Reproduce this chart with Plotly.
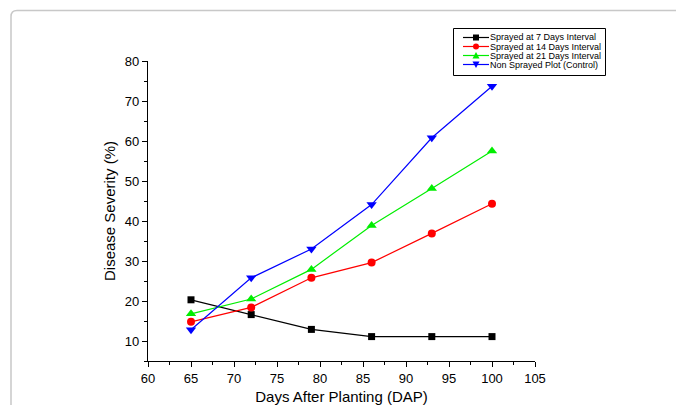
import plotly.graph_objects as go

dap = [65, 72, 79, 86, 93, 100]
sprayed_7 = [20.3, 16.6, 12.9, 11.1, 11.1, 11.1]
sprayed_14 = [14.8, 18.4, 25.8, 29.6, 36.9, 44.3]
sprayed_21 = [16.8, 20.5, 27.9, 38.9, 48.1, 57.5]
control = [12.8, 25.8, 33.0, 44.1, 60.8, 73.7]

series_names = ["Sprayed at 7 Days Interval", "Sprayed at 14 Days Interval",
                "Sprayed at 21 Days Interval", "Non Sprayed Plot (Control)"]
x_tickvals = [60, 65, 70, 75, 80, 85, 90, 95, 100, 105]
y_tickvals = [10, 20, 30, 40, 50, 60, 70, 80]

FONT = "Liberation Sans, Arial, sans-serif"

fig = go.Figure()
styles = [
    (sprayed_7, "#000000", "square", 7),
    (sprayed_14, "#ff0000", "circle", 8),
    (sprayed_21, "#00ee00", "triangle-up", 9),
    (control, "#0000ff", "triangle-down", 9),
]
for (vals, color, sym, size), name in zip(styles, series_names):
    fig.add_trace(go.Scatter(
        x=dap, y=vals, name=name, mode="lines+markers",
        line=dict(color=color, width=1.2),
        marker=dict(symbol=sym, size=size, color=color),
        showlegend=False,
    ))

# page has an 8px body margin; target plot area in window px: x 148..535, y 61..361
OFF = 8
W, H = 684, 405
L, T = 148 - OFF, 61 - OFF
pw, ph = 387, 300
R, B = W - L - pw, H - T - ph

def px(x):
    return (x - OFF - L) / pw

def py(y):
    return (T + ph - (y - OFF)) / ph

# rounded gray frame
x0, y0 = px(11), py(10.5)
rx, ry = 6 / pw, 6 / ph
path = (f"M {x0},{py(430)} L {x0},{y0 - ry} Q {x0},{y0} {x0 + rx},{y0} "
        f"L {px(710)},{y0}")
fig.add_shape(type="path", xref="paper", yref="paper", path=path,
              line=dict(color="#c8c8c8", width=1.5), layer="below")

# manual compact legend
fig.add_shape(type="rect", xref="paper", yref="paper",
              x0=px(453.5), x1=px(605.5), y0=py(28.5), y1=py(75.5),
              line=dict(color="#000000", width=1), fillcolor="white")
row_y = [37.5, 46.5, 55.5, 64.5]
lx0, lx1, mx = 463, 489, 476
for (vals, color, sym, size), name, ry_ in zip(styles, series_names, row_y):
    fig.add_shape(type="line", xref="paper", yref="paper",
                  x0=px(lx0), x1=px(lx1), y0=py(ry_), y1=py(ry_),
                  line=dict(color=color, width=1.2))
    h = 3
    if sym == "square":
        fig.add_shape(type="rect", xref="paper", yref="paper",
                      x0=px(mx - h), x1=px(mx + h), y0=py(ry_ - h), y1=py(ry_ + h),
                      line=dict(width=0), fillcolor=color)
    elif sym == "circle":
        fig.add_shape(type="circle", xref="paper", yref="paper",
                      x0=px(mx - h), x1=px(mx + h), y0=py(ry_ - h), y1=py(ry_ + h),
                      line=dict(width=0), fillcolor=color)
    elif sym == "triangle-up":
        p = (f"M {px(mx - 3.5)},{py(ry_ + 3)} L {px(mx + 3.5)},{py(ry_ + 3)} "
             f"L {px(mx)},{py(ry_ - 3.5)} Z")
        fig.add_shape(type="path", xref="paper", yref="paper", path=p,
                      line=dict(width=0), fillcolor=color)
    else:
        p = (f"M {px(mx - 3.5)},{py(ry_ - 3)} L {px(mx + 3.5)},{py(ry_ - 3)} "
             f"L {px(mx)},{py(ry_ + 3.5)} Z")
        fig.add_shape(type="path", xref="paper", yref="paper", path=p,
                      line=dict(width=0), fillcolor=color)
    fig.add_annotation(xref="paper", yref="paper", x=px(488), y=py(ry_),
                       xanchor="left", yanchor="middle", showarrow=False,
                       text=name, font=dict(family=FONT, size=9, color="#000000"))

axis_common = dict(
    showline=True, linecolor="#000000", linewidth=1.2, mirror=False,
    ticks="outside", ticklen=5, tickwidth=1, tickcolor="#000000",
    showgrid=False, zeroline=False, automargin=False,
    tickfont=dict(family=FONT, size=13, color="#000000"),
)

fig.update_layout(
    width=W, height=H,
    margin=dict(l=L, r=R, t=T, b=B),
    paper_bgcolor="white", plot_bgcolor="white",
    font=dict(family=FONT, color="#000000"),
    xaxis=dict(range=[60, 105], tickvals=x_tickvals,
               minor=dict(dtick=2.5, tick0=60, ticks="outside", ticklen=3, tickcolor="#000000"),
               title=dict(text="Days After Planting (DAP)", font=dict(family=FONT, size=15), standoff=6),
               **axis_common),
    yaxis=dict(range=[5, 80], tickvals=y_tickvals,
               minor=dict(dtick=5, tick0=5, ticks="outside", ticklen=3, tickcolor="#000000"),
               title=dict(text="Disease Severity (%)", font=dict(family=FONT, size=15), standoff=5),
               **axis_common),
    showlegend=False,
)

fig.write_html("out.html")
